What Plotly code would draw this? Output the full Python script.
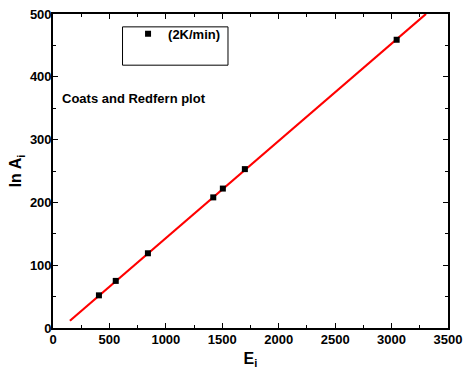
import plotly.graph_objects as go

# Data
E_i = [407, 556, 841, 1420, 1505, 1700, 3045]
lnA_i = [52, 75, 119, 208, 222, 253, 459]
fit_E = [150, 3305]
fit_lnA = [11.6, 500]
series_name = "(2K/min)"
x_ticks = [0, 500, 1000, 1500, 2000, 2500, 3000, 3500]
y_ticks = [0, 100, 200, 300, 400, 500]

FONT = "Liberation Sans, Arial, sans-serif"

fig = go.Figure()
fig.add_trace(go.Scatter(
    x=fit_E, y=fit_lnA, mode="lines",
    line=dict(color="#ff0000", width=2.2),
    showlegend=False, hoverinfo="skip"))
fig.add_trace(go.Scatter(
    x=E_i, y=lnA_i, mode="markers", name="<b>" + series_name + "</b>",
    marker=dict(symbol="square", size=6, color="black")))

axis_common = dict(
    showgrid=False, zeroline=False, showline=True, linecolor="black",
    linewidth=1.6, mirror="allticks", ticks="inside", ticklen=5,
    tickwidth=1.2, tickcolor="black", automargin=False,
    tickfont=dict(family=FONT, size=13, color="black"),
)

fig.update_xaxes(
    range=[0, 3500], tickvals=x_ticks, ticktext=["<b>%d</b>" % v for v in x_ticks],
    minor=dict(ticks="inside", ticklen=3, dtick=250, tick0=0, tickcolor="black", tickwidth=1),
    title=dict(text="<b>E<sub>i</sub></b>", font=dict(family=FONT, size=16, color="black"),
               standoff=6),
    ticklabelstandoff=-1,
    **axis_common)
fig.update_yaxes(
    range=[0, 500], tickvals=y_ticks, ticktext=["<b>%d</b>" % v for v in y_ticks],
    minor=dict(ticks="inside", ticklen=3, dtick=50, tick0=0, tickcolor="black", tickwidth=1),
    title=dict(text="<b>ln A<sub>i</sub></b>", font=dict(family=FONT, size=16, color="black"),
               standoff=4),
    ticklabelstandoff=-3,
    **axis_common)

fig.add_shape(type="rect", xref="paper", yref="paper",
              x0=0.176, x1=0.443, y0=0.837, y1=0.959,
              line=dict(color="black", width=1), fillcolor="rgba(0,0,0,0)")

fig.add_annotation(text="<b>Coats and Redfern plot</b>", xref="paper", yref="paper",
                   x=0.017, y=0.73, xanchor="left", yanchor="middle", showarrow=False,
                   font=dict(family=FONT, size=13, color="black"))

fig.update_layout(
    width=463, height=372,
    margin=dict(l=53, r=15, t=14, b=44, autoexpand=False),
    paper_bgcolor="white", plot_bgcolor="white",
    showlegend=True,
    legend=dict(x=0.19, y=0.985, xanchor="left", yanchor="top",
                bgcolor="rgba(0,0,0,0)", borderwidth=0,
                font=dict(family=FONT, size=13, color="black"),
                itemwidth=30, tracegroupgap=0),
)

fig.write_html("out.html")
